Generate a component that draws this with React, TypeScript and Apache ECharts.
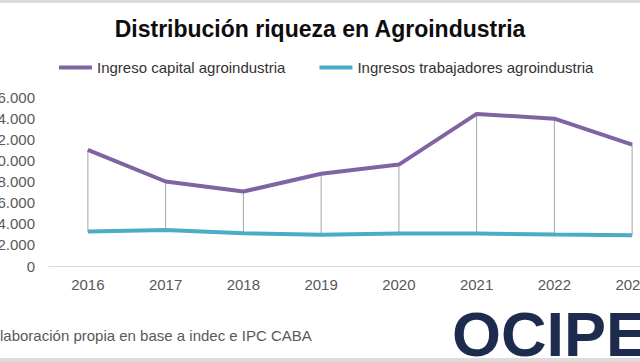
import React, { useEffect, useRef } from "react";
import * as echarts from "echarts";

const categories = ["2016", "2017", "2018", "2019", "2020", "2021", "2022", "2023"];
const capital = [11000, 8000, 7050, 8730, 9600, 14400, 13950, 11500];
const trabajadores = [3270, 3400, 3110, 2950, 3080, 3080, 2980, 2920];
const seriesNames = ["Ingreso capital agroindustria", "Ingresos trabajadores agroindustria"];
const titleText = "Distribución riqueza en Agroindustria";
const sourceText = "Elaboración propia en base a indec e IPC CABA";
const logoText = "OCIPE";

const FONT = "'Liberation Sans', Arial, sans-serif";

export default function App() {
  const ref = useRef<HTMLDivElement>(null);
  useEffect(() => {
    if (!ref.current) return;
    const chart = echarts.init(ref.current, undefined, { renderer: "svg" });
    const dropData = categories.map((_, i) => [i, trabajadores[i], capital[i]]);
    chart.setOption({
      animation: false,
      backgroundColor: "#ffffff",
      textStyle: { fontFamily: FONT },
      title: {
        text: titleText,
        left: "center",
        top: 12,
        textStyle: { fontFamily: FONT, fontSize: 23, fontWeight: "bold", color: "#0d0d0d" },
      },
      legend: {
        data: seriesNames,
        left: 54,
        top: 55,
        icon: "rect",
        itemWidth: 33,
        itemHeight: 4,
        itemGap: 34,
        textStyle: { fontFamily: FONT, fontSize: 15, color: "#333333" },
      },
      grid: {
        left: 49,
        right: -31,
        top: 97,
        bottom: 96,
        containLabel: false,
        outerBoundsMode: "none",
      },
      xAxis: {
        type: "category",
        data: categories,
        boundaryGap: true,
        axisLine: { lineStyle: { color: "#d9d9d9", width: 1 } },
        axisTick: { show: false },
        axisLabel: { fontFamily: FONT, fontSize: 15, color: "#595959", margin: 11 },
        splitLine: { show: false },
      },
      yAxis: {
        type: "value",
        min: 0,
        max: 16000,
        interval: 2000,
        axisLine: { show: false },
        axisTick: { show: false },
        splitLine: { show: false },
        axisLabel: {
          fontFamily: FONT,
          fontSize: 15,
          color: "#595959",
          margin: 14,
          formatter: (v: number) => (v === 0 ? "0" : v.toLocaleString("de-DE")),
        },
      },
      graphic: [
        { type: "rect", shape: { x: 0, y: 0, width: 640, height: 3 }, style: { fill: "#dcdcdc" }, silent: true },
        { type: "rect", shape: { x: 0, y: 358, width: 640, height: 4 }, style: { fill: "#dcdcdc" }, silent: true },
        {
          type: "text",
          x: -10,
          y: 335,
          style: { text: sourceText, font: `15px ${FONT}`, fill: "#595959", verticalAlign: "middle", align: "left" },
          silent: true,
        },
        {
          type: "text",
          x: 452,
          y: 334,
          style: { text: logoText, font: `bold 63px ${FONT}`, fill: "#1d2b4e", verticalAlign: "middle", align: "left" },
          silent: true,
        },
      ],
      series: [
        {
          type: "custom",
          name: "drop",
          z: 1,
          silent: true,
          data: dropData,
          renderItem: (params: any, api: any) => {
            const x = api.value(0);
            const p1 = api.coord([x, api.value(1)]);
            const p2 = api.coord([x, api.value(2)]);
            return {
              type: "line",
              shape: { x1: p1[0], y1: p1[1], x2: p2[0], y2: p2[1] },
              style: { stroke: "#a6a6a6", lineWidth: 1 },
            };
          },
        },
        {
          type: "line",
          name: seriesNames[0],
          data: capital,
          symbol: "none",
          z: 3,
          lineStyle: { color: "#8064a2", width: 4 },
          itemStyle: { color: "#8064a2" },
        },
        {
          type: "line",
          name: seriesNames[1],
          data: trabajadores,
          symbol: "none",
          z: 3,
          lineStyle: { color: "#4bacc6", width: 4 },
          itemStyle: { color: "#4bacc6" },
        },
      ],
    });
    return () => chart.dispose();
  }, []);
  return (
    <div
      ref={ref}
      style={{ position: "fixed", left: 0, top: 0, width: 640, height: 362, background: "#fff" }}
    />
  );
}
